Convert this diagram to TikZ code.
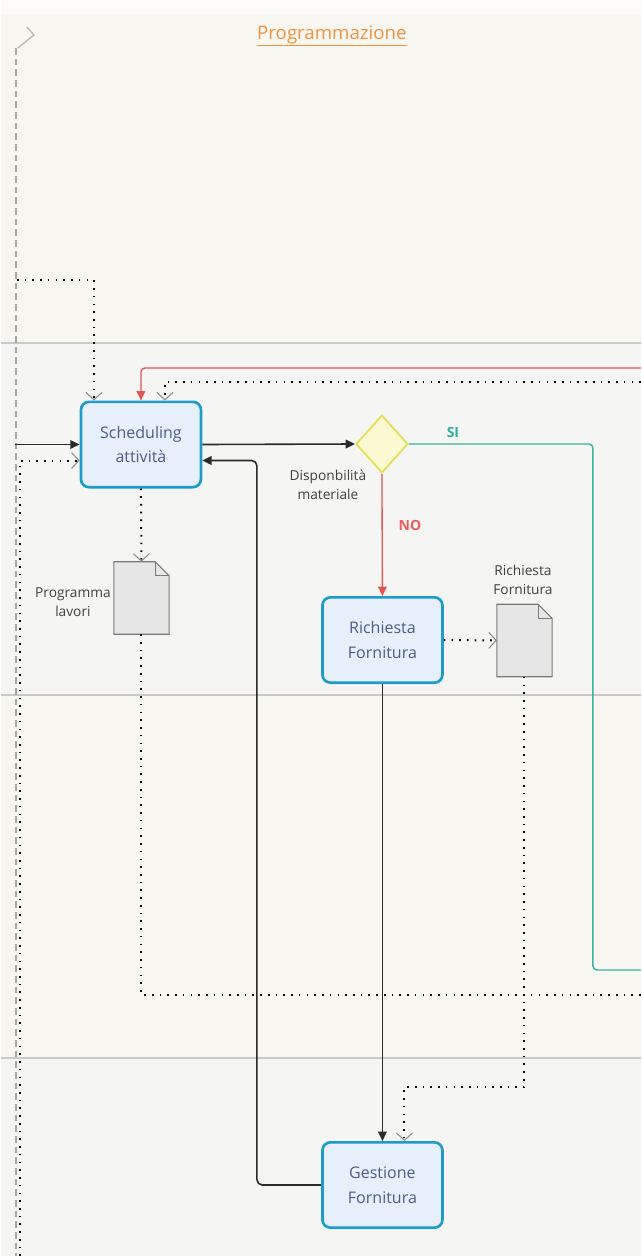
\documentclass[tikz,border=0pt]{standalone}
\usepackage{fontspec}
\setmainfont{Open Sans}
\usetikzlibrary{arrows.meta,shapes.geometric,calc}
\definecolor{laneA}{HTML}{F8F6F1}
\definecolor{laneB}{HTML}{F5F5F4}
\definecolor{sepgray}{HTML}{C9C9C9}
\definecolor{taskblue}{HTML}{1E9BC8}
\definecolor{taskfill}{HTML}{E7F0FA}
\definecolor{tasktext}{HTML}{4E5B85}
\definecolor{flowdark}{HTML}{2B2B2B}
\definecolor{redflow}{HTML}{E25555}
\definecolor{greenflow}{HTML}{3DB39E}
\definecolor{gatefill}{HTML}{FBF9D2}
\definecolor{gateline}{HTML}{E6DE5E}
\definecolor{docfill}{HTML}{E6E6E6}
\definecolor{docline}{HTML}{7A7A7A}
\definecolor{titleorange}{HTML}{EE9440}
\definecolor{sitext}{HTML}{2EAE9C}
\definecolor{notext}{HTML}{F05A5A}
\tikzset{
  task/.style={draw=taskblue, line width=2pt, fill=taskfill, rounded corners=6pt,
    minimum width=90pt, minimum height=64pt, align=center, text=tasktext,
    font=\fontsize{12}{18.5}\selectfont},
  gate/.style={diamond, draw=gateline, line width=1.4pt, fill=gatefill,
    minimum width=39pt, minimum height=43.5pt, inner sep=0pt},
  docbox/.style={rectangle, draw=none, minimum width=41pt, minimum height=54pt, inner sep=0pt},
  docpath/.style={draw=docline, fill=docfill, line width=0.8pt},
  smalllabel/.style={align=center, text=black!75, font=\fontsize{10.3}{14.5}\selectfont},
  flow/.style={draw=flowdark, line width=1.2pt, -{Triangle[length=7pt,width=6.5pt]}},
  redline/.style={draw=redflow, line width=1pt, -{Triangle[length=7pt,width=6.5pt]}},
  yesline/.style={draw=greenflow, line width=1.1pt},
  msg/.style={draw=black, line width=1.5pt, dash pattern=on 1.2pt off 4.6pt,
    -{Straight Barb[length=5.5pt,width=12pt,line width=0.8pt,color=black!45]}},
  msgplain/.style={draw=black, line width=1.5pt, dash pattern=on 1.2pt off 4.6pt},
  sep/.style={draw=sepgray, line width=1.4pt},
}
\begin{document}
\begin{tikzpicture}[x=0.75pt,y=-0.75pt]
% lanes
\fill[laneA] (0,0) rectangle (640,343);
\fill[white!60!laneA] (0,0) rectangle (640,14);
\fill[laneB] (0,343) rectangle (640,695);
\fill[laneA] (0,695) rectangle (640,1058);
\fill[laneB] (0,1058) rectangle (640,1256);
\draw[sep] (0,343) -- (640,343);
\draw[sep] (0,695) -- (640,695);
\draw[sep] (0,1058) -- (640,1058);
\useasboundingbox (0,0) rectangle (640,1256);

% pool edge on the left
\draw[black!35, line width=0.9pt, dash pattern=on 5pt off 3pt] (15,48) -- (15,1256);
\draw[black!30, line width=0.9pt] (26,27) -- (33,35) -- (17,48);

% title
\node[text=titleorange, font=\fontsize{14}{16}\selectfont] (title) at (331,36) {\underline{Programmazione}};

% tasks and gateway
\node[task] (sched) at (140,444.5) {Scheduling\\attività};
\node[gate] (dia) at (381,444) {};
\node[task] (rich) at (381.5,640) {Richiesta\\Fornitura};
\node[task] (gest) at (381.5,1185) {Gestione\\Fornitura};

% data objects
\node[docbox] (doc1) at (140.5,598) {};
\node[docbox] (doc2) at (523.5,640.5) {};
\foreach \d in {doc1,doc2}{
  \draw[docpath] (\d.north west) -- ($(\d.north east)+(-14,0)$) -- ($(\d.north east)+(0,14)$)
     -- (\d.south east) -- (\d.south west) -- cycle;
  \draw[docline, line width=0.6pt] ($(\d.north east)+(-14,0)$) -- ($(\d.north east)+(-14,14)$) -- ($(\d.north east)+(0,14)$);
}

% labels
\node[smalllabel] (lbl1) at (72,602) {Programma\\lavori};
\node[smalllabel] (lbl2) at (522,580) {Richiesta\\Fornitura};
\node[smalllabel] (lbl3) at (327,485) {Disponbilità\\materiale};
\node[text=sitext, font=\bfseries\fontsize{10.5}{12}\selectfont] (si) at (452,432) {SI};
\node[text=notext, font=\bfseries\fontsize{10.5}{12}\selectfont] (no) at (409,525) {NO};

% free ends
\coordinate (inL) at (14,444.5);
\coordinate (dotL) at (16,280);
\coordinate (dotL2) at (19,1256);
\coordinate (redR) at (640,368);
\coordinate (dotR) at (640,382);
\coordinate (siend) at (640,970);
\coordinate (sicorner) at (592,970);
\coordinate (docout) at (640,995);
\coordinate (gback) at (256,1185);

% sequence flows
\draw[flow] (inL) -- (sched.west);
\draw[flow] (sched.east) -- (dia.west);
\draw[yesline, rounded corners=3pt] (dia.east) -| (sicorner) -- (siend);
\draw[redline] (dia.south) -- (rich.north);
\draw[redline, rounded corners=3pt] (redR) -| (sched.north);
\draw[flow] (rich.south) -- (gest.north);
\draw[flow, rounded corners=4pt] (gest.west) -- (gback) |- ($(sched.east)+(0,16)$);

% message / association flows
\draw[msg] (dotR) -| ($(sched.north)+(24,0)$);
\draw[msg] (dotL) -| ($(sched.north)+(-47,0)$);
\draw[msg] (dotL2) |- ($(sched.west)+(0,16)$);
\draw[msg] (sched.south) -- (doc1.north);
\draw[msgplain] (doc1.south) |- (docout);
\draw[msg] (rich.east) -- (doc2.west);
\draw[msg] (doc2.south) |- ($(gest.north)+(22,-54)$) -- ($(gest.north)+(22,0)$);
\end{tikzpicture}
\end{document}
